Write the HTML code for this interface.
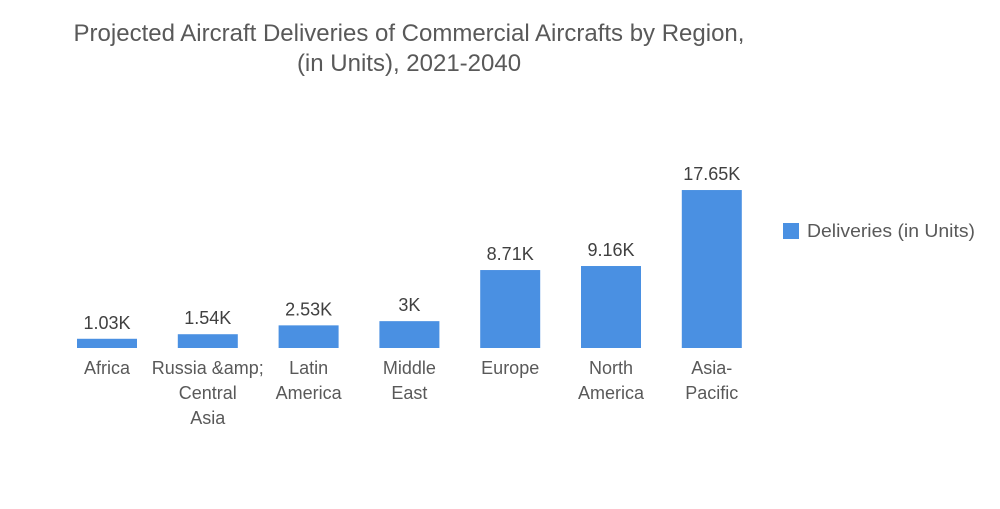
<!DOCTYPE html>
<html><head><meta charset="utf-8"><style>
body{margin:0;background:#fff;width:1000px;height:504px;overflow:hidden;font-family:"Liberation Sans",sans-serif;}
</style></head><body>
<svg width="1000" height="504" xmlns="http://www.w3.org/2000/svg">
<g fill="#595959" font-size="24" text-anchor="middle">
<text x="409" y="41">Projected Aircraft Deliveries of Commercial Aircrafts by Region,</text>
<text x="409" y="71">(in Units), 2021-2040</text>
</g>
<g id="bars"></g>
<g>
<rect x="783" y="223" width="16" height="16" fill="#4a90e2"/>
<text x="807" y="237" font-size="18" fill="#595959" textLength="168" lengthAdjust="spacingAndGlyphs">Deliveries (in Units)</text>
</g>
</svg>
<script>
const categories=[["Africa"],["Russia &amp;","Central","Asia"],["Latin","America"],["Middle","East"],["Europe"],["North","America"],["Asia-","Pacific"]];
const values=[1.03,1.54,2.53,3,8.71,9.16,17.65];
const valueLabels=["1.03K","1.54K","2.53K","3K","8.71K","9.16K","17.65K"];
const baseY=348, pxPerK=8.95, x0=107, step=100.8, bw=60;
const yScale=v=>baseY-v*pxPerK;
const xScale=i=>x0+i*step;
const g=document.getElementById('bars');
const NS="http://www.w3.org/2000/svg";
values.forEach((v,i)=>{
  const cx=xScale(i), top=yScale(v);
  const r=document.createElementNS(NS,'rect');
  r.setAttribute('x',cx-bw/2);r.setAttribute('y',top);r.setAttribute('width',bw);r.setAttribute('height',baseY-top);r.setAttribute('fill','#4a90e2');
  
  
  g.appendChild(r);
  const t=document.createElementNS(NS,'text');
  t.setAttribute('x',cx);t.setAttribute('y',top-10);t.setAttribute('text-anchor','middle');t.setAttribute('font-size','18');t.setAttribute('fill','#404040');
  t.textContent=valueLabels[i];
  
  
  g.appendChild(t);
  categories[i].forEach((line,j)=>{
    const c=document.createElementNS(NS,'text');
    c.setAttribute('x',cx);c.setAttribute('y',374+j*25);c.setAttribute('text-anchor','middle');c.setAttribute('font-size','18');c.setAttribute('fill','#595959');
    c.textContent=line;
    
    
    g.appendChild(c);
  });
});
</script>
</body></html>
